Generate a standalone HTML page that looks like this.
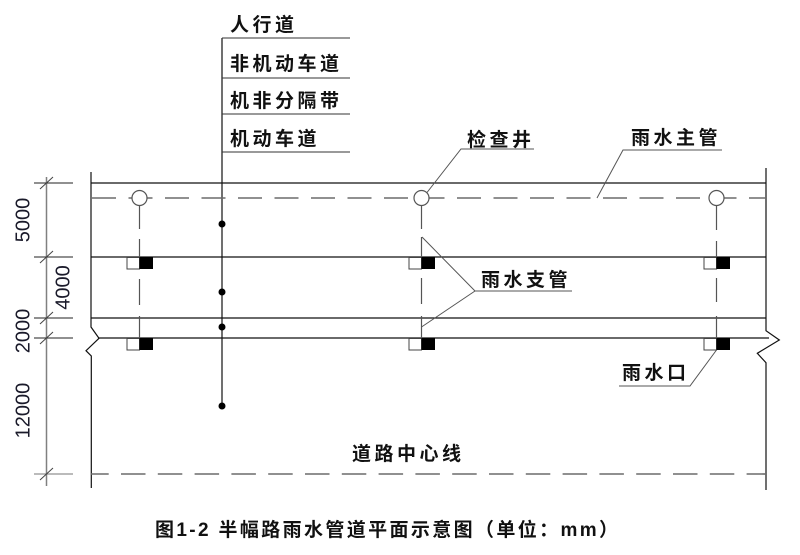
<!DOCTYPE html>
<html>
<head>
<meta charset="utf-8">
<style>
  html,body{margin:0;padding:0;background:#fff;}
  svg{display:block;}
  .lbl{font-family:"Liberation Sans","Noto Sans CJK SC",sans-serif;font-weight:bold;font-size:19px;letter-spacing:3.5px;fill:#111;}
  .dim{font-family:"Liberation Sans",sans-serif;font-size:20px;fill:#1a1a2a;}
  .cap{font-family:"Liberation Sans","Noto Sans CJK SC",sans-serif;font-weight:bold;font-size:19px;fill:#111;}
</style>
</head>
<body>
<svg width="800" height="555" viewBox="0 0 800 555" xmlns="http://www.w3.org/2000/svg">
  <rect width="800" height="555" fill="#fff"/>

  <!-- dimension line -->
  <line x1="46.5" y1="177" x2="46.5" y2="486" stroke="#808080" stroke-width="1.5"/>
  <g stroke="#222" stroke-width="1.1">
    <line x1="34" y1="183" x2="73" y2="183"/>
    <line x1="34" y1="257" x2="73" y2="257"/>
    <line x1="34" y1="318" x2="73" y2="318"/>
    <line x1="34" y1="338" x2="73" y2="338"/>
    <line x1="34" y1="474" x2="73" y2="474" stroke="#777"/>
  </g>
  <g stroke="#444" stroke-width="1">
    <line x1="40" y1="189" x2="53" y2="177"/>
    <line x1="40" y1="263" x2="53" y2="251"/>
    <line x1="40" y1="324" x2="53" y2="312"/>
    <line x1="40" y1="344" x2="53" y2="332"/>
    <line x1="40" y1="480" x2="53" y2="468"/>
  </g>
  <text class="dim" text-anchor="middle" x="22.5" y="227" transform="rotate(-90 22.5 220)">5000</text>
  <text class="dim" text-anchor="middle" x="62.5" y="294.5" transform="rotate(-90 62.5 287.5)">4000</text>
  <text class="dim" text-anchor="middle" x="22.5" y="338" transform="rotate(-90 22.5 331)">2000</text>
  <text class="dim" text-anchor="middle" x="22.5" y="417.5" transform="rotate(-90 22.5 410.5)">12000</text>

  <!-- label stack -->
  <line x1="222" y1="38" x2="222" y2="406" stroke="#111" stroke-width="1.2"/>
  <g stroke="#333" stroke-width="1.1">
    <line x1="222" y1="38" x2="350" y2="38"/>
    <line x1="222" y1="78" x2="350" y2="78"/>
    <line x1="222" y1="114" x2="350" y2="114"/>
    <line x1="222" y1="152" x2="350" y2="152"/>
  </g>
  <text class="lbl" x="230" y="31">人行道</text>
  <text class="lbl" x="230" y="70">非机动车道</text>
  <text class="lbl" x="230" y="107">机非分隔带</text>
  <text class="lbl" x="230" y="145">机动车道</text>
  <g fill="#000">
    <circle cx="222" cy="224" r="3.5"/>
    <circle cx="222" cy="292" r="3.5"/>
    <circle cx="222" cy="327" r="3.5"/>
    <circle cx="222" cy="406" r="3.5"/>
  </g>

  <!-- road lines -->
  <g stroke="#111" stroke-width="1.2" fill="none">
    <line x1="91" y1="183" x2="766" y2="183"/>
    <line x1="91" y1="257" x2="766" y2="257"/>
    <line x1="91" y1="318" x2="766" y2="318"/>
    <line x1="98" y1="338" x2="769" y2="338"/>
    <polyline points="91,172 91,327 99,338.3 86,350.7 91.3,356 91.3,488"/>
    <polyline points="766,168 766,330.7 779.3,340 757.3,353.3 766,362.7 766,490"/>
  </g>

  <!-- main pipe dashed -->
  <line x1="91" y1="198" x2="766" y2="198" stroke="#6b6b6b" stroke-width="1.5" stroke-dasharray="24 12.5" stroke-dashoffset="35.5"/>
  <!-- road centre dashed -->
  <line x1="91" y1="474" x2="766" y2="474" stroke="#6b6b6b" stroke-width="1.6" stroke-dasharray="24.5 12.3" stroke-dashoffset="6.8"/>

  <!-- branch pipes -->
  <g stroke="#555" stroke-width="1.2">
    <line x1="139.5" y1="206" x2="139.5" y2="229"/>
    <line x1="139.5" y1="239" x2="139.5" y2="268"/>
    <line x1="139.5" y1="279" x2="139.5" y2="305"/>
    <line x1="139.5" y1="316" x2="139.5" y2="350"/>
    <line x1="421.5" y1="206" x2="421.5" y2="229"/>
    <line x1="421.5" y1="237" x2="421.5" y2="268"/>
    <line x1="421.5" y1="278" x2="421.5" y2="304"/>
    <line x1="421.5" y1="316" x2="421.5" y2="350"/>
    <line x1="716.5" y1="206" x2="716.5" y2="230"/>
    <line x1="716.5" y1="241" x2="716.5" y2="268"/>
    <line x1="716.5" y1="278" x2="716.5" y2="302"/>
    <line x1="716.5" y1="316" x2="716.5" y2="350"/>
  </g>

  <!-- manholes -->
  <g fill="#fff" stroke="#555" stroke-width="1.2">
    <circle cx="139.5" cy="198" r="7.5"/>
    <circle cx="421.5" cy="198" r="7.5"/>
    <circle cx="716.5" cy="198" r="7.5"/>
  </g>

  <!-- inlets -->
  <g>
    <rect x="127" y="257.5" width="12.5" height="11.5" fill="#fff" stroke="#444" stroke-width="1"/>
    <rect x="139.5" y="257" width="13.5" height="12" fill="#000"/>
    <rect x="127" y="338.5" width="12.5" height="11.5" fill="#fff" stroke="#444" stroke-width="1"/>
    <rect x="139.5" y="338" width="13.5" height="12" fill="#000"/>

    <rect x="409" y="257.5" width="12.5" height="11.5" fill="#fff" stroke="#444" stroke-width="1"/>
    <rect x="421.5" y="257" width="13.5" height="12" fill="#000"/>
    <rect x="409" y="338.5" width="12.5" height="11.5" fill="#fff" stroke="#444" stroke-width="1"/>
    <rect x="421.5" y="338" width="13.5" height="12" fill="#000"/>

    <rect x="704" y="257.5" width="12.5" height="11.5" fill="#fff" stroke="#444" stroke-width="1"/>
    <rect x="716.5" y="257" width="13.5" height="12" fill="#000"/>
    <rect x="704" y="338.5" width="12.5" height="11.5" fill="#fff" stroke="#444" stroke-width="1"/>
    <rect x="716.5" y="338" width="13.5" height="12" fill="#000"/>
  </g>

  <!-- leaders -->
  <g stroke="#555" stroke-width="1" fill="none">
    <polyline points="534,149 461,149 427,192.5"/>
    <polyline points="722,150 623,150 597,198"/>
    <polyline points="572,291 475,291 422,237"/>
    <line x1="475" y1="291" x2="421.5" y2="327"/>
    <polyline points="619,386 690,386 716.5,350"/>
  </g>

  <text class="lbl" x="467" y="146">检查井</text>
  <text class="lbl" x="631" y="144">雨水主管</text>
  <text class="lbl" x="481" y="286">雨水支管</text>
  <text class="lbl" x="622" y="379">雨水口</text>
  <text class="lbl" x="352" y="460">道路中心线</text>

  <!-- caption -->
  <text class="cap" x="155" y="536" textLength="463" lengthAdjust="spacing">图1-2 半幅路雨水管道平面示意图（单位：mm）</text>
</svg>
</body>
</html>
